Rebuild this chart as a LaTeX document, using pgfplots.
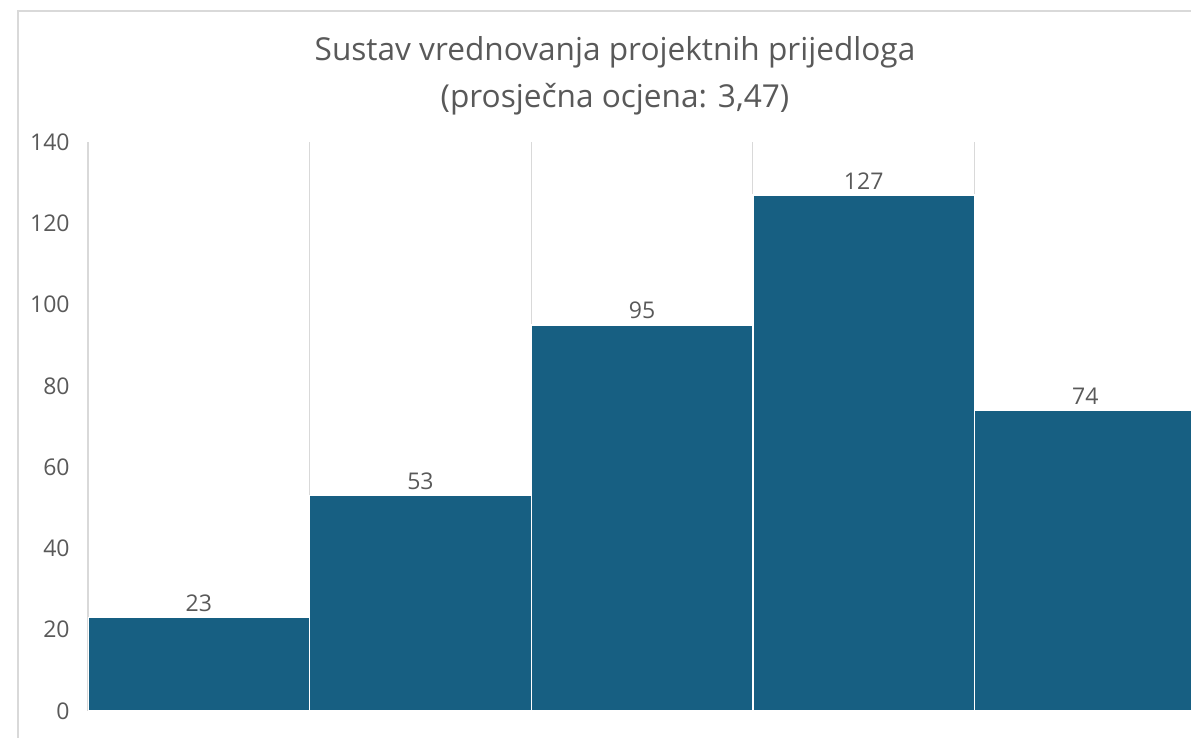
\documentclass[border=0pt]{standalone}
\usepackage{pgfplots}
\pgfplotsset{compat=1.18}
\usepackage{fontspec}
\setmainfont{Open Sans}
\definecolor{barblue}{HTML}{175F82}
\definecolor{txt}{HTML}{595959}
\definecolor{gridc}{HTML}{D9D9D9}
\begin{document}
\begin{tikzpicture}
\useasboundingbox (0,0) rectangle (595.5pt,369pt);
\fill[white] (0,0) rectangle (595.5pt,369pt);
\draw[gridc, line width=0.6pt] (9pt,0) -- (9pt,363.5pt) -- (595.5pt,363.5pt);
\node[txt, anchor=base, font=\fontsize{15.8}{19}\selectfont] at (307.5pt,338.5pt) {Sustav vrednovanja projektnih prijedloga};
\node[txt, anchor=base, font=\fontsize{15.8}{19}\selectfont] at (307.5pt,315pt) {(prosječna ocjena: 3,47)};
\begin{axis}[
  at={(44pt,13.5pt)}, anchor=south west, scale only axis,
  width=551.5pt, height=284.5pt,
  xmin=0, xmax=4.977, ymin=0, ymax=140,
  ytick={0,20,...,140}, xtick={0,1,2,3,4}, xticklabels={},
  xmajorgrids, major grid style={gridc, line width=0.6pt},
  axis line style={draw=none}, major tick length=0pt,
  /pgf/number format/assume math mode=true,
  yticklabel style={txt, font=\fontsize{11.5}{14}\selectfont, anchor=east, inner sep=0pt, xshift=-9pt},
  ybar, bar width=1,
  nodes near coords,
  nodes near coords style={txt, font=\fontsize{11.5}{14}\selectfont, anchor=south, inner sep=0pt, yshift=2.5pt},
]
\addplot[fill=barblue, draw=white, line width=0.7pt] coordinates {(0.5,23) (1.5,53) (2.5,95) (3.5,127) (4.5,74)};
\end{axis}
\end{tikzpicture}
\end{document}
